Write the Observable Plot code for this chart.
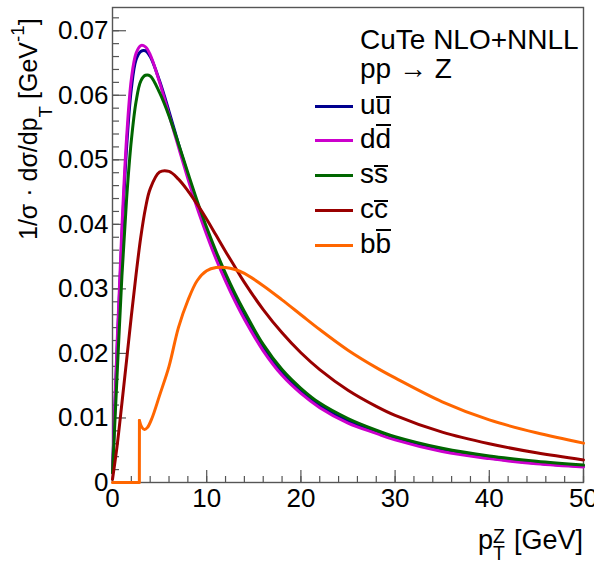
<!DOCTYPE html>
<html><head><meta charset="utf-8">
<script src="https://cdn.jsdelivr.net/npm/d3@7"></script>
<script src="https://cdn.jsdelivr.net/npm/@observablehq/plot@0.6"></script>
<style>
html,body{margin:0;padding:0;background:#fff;}
#wrap{position:relative;width:594px;height:563px;font-family:"Liberation Sans",Arial,Helvetica,sans-serif;color:#000;overflow:hidden;}
#wrap svg{position:absolute;left:0;top:0;}
.t{position:absolute;white-space:nowrap;font-size:27px;line-height:32px;}
.tl{position:absolute;white-space:nowrap;font-size:28px;line-height:32px;}
.ty{position:absolute;white-space:nowrap;font-size:25px;line-height:30px;}
.bx{display:inline-block;border-top:2px solid #000;line-height:0.507em;}
.ba{display:inline-block;border-top:2px solid #000;line-height:0.907em;}
.sw{position:absolute;height:3px;width:38px;}
.sub{font-size:0.75em;position:relative;top:0.8em;line-height:0;}
.sup{font-size:0.75em;position:relative;top:-0.67em;line-height:0;}
.ss{display:inline-block;position:relative;width:0.5em;height:1px;}
.ss .z{position:absolute;left:0;top:-1.05em;font-size:0.72em;line-height:1;}
.ss .tt{position:absolute;left:0;top:-0.2em;font-size:0.72em;line-height:1;}
</style></head><body><div id="wrap"></div>
<script>
// pT values (GeV) shared by the light-quark and charm curves
const pt = [0,0.5,1,1.5,2,2.5,3,3.5,4,5,6,7,8,9,10,11,12,13,14,16,18,20,22,25,28,30,35,40,45,50];
const uu = [0.0015,0.021,0.038,0.052,0.061,0.0655,0.0668,0.0669,0.0660,0.0622,0.0575,0.0525,0.0476,0.0430,0.0388,0.0350,0.0316,0.0285,0.0257,0.0208,0.0170,0.0141,0.0119,0.0095,0.0078,0.0068,0.0050,0.0038,0.0030,0.0025];
const dd = [0.0015,0.022,0.0395,0.0535,0.0625,0.0665,0.0677,0.0675,0.0663,0.0620,0.0570,0.0520,0.0471,0.0425,0.0384,0.0346,0.0312,0.0281,0.0253,0.0204,0.0166,0.0138,0.0116,0.0092,0.0076,0.0066,0.0048,0.0037,0.0029,0.0024];
const ss = [0.0015,0.017,0.032,0.044,0.053,0.059,0.0622,0.0631,0.0630,0.0604,0.0568,0.0525,0.0480,0.0436,0.0395,0.0358,0.0324,0.0293,0.0265,0.0214,0.0175,0.0146,0.0123,0.0099,0.0081,0.0071,0.0053,0.0041,0.0033,0.0027];
const cc = [0.0005,0.0058,0.0123,0.019,0.0258,0.0322,0.038,0.0425,0.0455,0.0481,0.0482,0.0470,0.0452,0.0431,0.0408,0.0383,0.0358,0.0334,0.0310,0.0268,0.0232,0.0201,0.0175,0.0143,0.0118,0.0104,0.0078,0.0060,0.0046,0.0035];
// b-quark curve has its own pT grid (threshold step near 2.9 GeV)
const ptB = [0,2.85,2.86,3.1,3.4,3.7,4.2,5,6,7,8,9,10,11,12,13,14,16,18,20,22,25,28,30,35,40,45,50];
const bb  = [0,0,0.0096,0.0086,0.0082,0.0085,0.0100,0.0135,0.0180,0.0240,0.0282,0.0313,0.0328,0.0333,0.0333,0.0330,0.0324,0.0305,0.0283,0.0260,0.0237,0.0205,0.0178,0.0162,0.0125,0.0097,0.0077,0.0061];

const colors = ["#00008f","#cc00cc","#006600","#990000","#ff6600"];
const xTicks = [0,10,20,30,40,50];
const yTicks = [0,0.01,0.02,0.03,0.04,0.05,0.06,0.07];
const yTickLabels = ["0","0.01","0.02","0.03","0.04","0.05","0.06","0.07"];
const xMinor = d3.range(0, 50.01, 2);
const yMinor = d3.range(0, 0.0731, 0.002);

const series = [
  {k:"uu", x:pt, y:uu}, {k:"dd", x:pt, y:dd}, {k:"ss", x:pt, y:ss},
  {k:"cc", x:pt, y:cc}, {k:"bb", x:ptB, y:bb}
];

const W = 594, H = 563, mL = 112, mR = 11, mT = 7, mB = 81;
const fw = W - mL - mR, fh = H - mT - mB;
const axisColor = "#555";

const rowsOf = s => s.x.map((x, j) => ({pt: x, v: s.y[j]}));
const lineMarks = [];
series.forEach((s, i) => {
  const rows = rowsOf(s);
  if (s.k === "bb") {
    // flat part + threshold jump drawn straight, the rest smooth
    lineMarks.push(Plot.line(rows.slice(0, 3), {x: "pt", y: "v", stroke: colors[i], strokeWidth: 3, curve: "linear"}));
    lineMarks.push(Plot.line(rows.slice(2), {x: "pt", y: "v", stroke: colors[i], strokeWidth: 3, curve: "catmull-rom"}));
  } else {
    lineMarks.push(Plot.line(rows, {x: "pt", y: "v", stroke: colors[i], strokeWidth: 3, curve: "catmull-rom"}));
  }
});

const plot = Plot.plot({
  width: W, height: H,
  marginLeft: mL, marginRight: mR, marginTop: mT, marginBottom: mB,
  style: {fontFamily: '"Liberation Sans", Arial, Helvetica, sans-serif', fontSize: "26px", background: "transparent", color: "#000"},
  x: {domain: [0, 50]},
  y: {domain: [0, 0.0736]},
  marks: [
    Plot.axisY(yTicks, {tickSize: 0, tickPadding: 4, fontSize: 26, label: null, tickFormat: d => yTickLabels[yTicks.indexOf(d)]}),
    Plot.axisX(xTicks, {tickSize: 0, tickPadding: 6, fontSize: 26, label: null, tickFormat: d => String(d)}),
    Plot.frame({stroke: axisColor, strokeWidth: 1.4}),
    Plot.tickY(yMinor, {y: d => d, insetRight: fw - 7, stroke: axisColor, strokeWidth: 1.2}),
    Plot.tickY(yTicks, {y: d => d, insetRight: fw - 14, stroke: axisColor, strokeWidth: 1.2}),
    Plot.tickX(xMinor, {x: d => d, insetTop: fh - 6, stroke: axisColor, strokeWidth: 1.2}),
    Plot.tickX(xTicks, {x: d => d, insetTop: fh - 12, stroke: axisColor, strokeWidth: 1.2}),
    ...lineMarks
  ]
});

const wrap = document.getElementById("wrap");
wrap.appendChild(plot);

// Legend (inside the frame, top right)
const legendTitle = ["CuTe NLO+NNLL", "pp \u2192 Z"];
const legendHTML = [
  'u<span class="bx">u</span>',
  'd<span class="ba">d</span>',
  's<span class="bx">s</span>',
  'c<span class="bx">c</span>',
  'b<span class="ba">b</span>'
];
const offFor = (fs, lh) => (lh - 1.117 * fs) / 2 + 0.905 * fs;
const off = offFor(27, 32), offL = offFor(28, 32);
const titleBaselines = [50, 79];
legendTitle.forEach((t, i) => {
  const d = document.createElement("div");
  d.className = "tl";
  d.style.left = "360px";
  d.style.top = (titleBaselines[i] - offL) + "px";
  d.textContent = t;
  wrap.appendChild(d);
});
const entryY = [106, 140, 175, 210, 245];
legendHTML.forEach((h, i) => {
  const s = document.createElement("div");
  s.className = "sw";
  s.style.left = "315px";
  s.style.top = (entryY[i] - 1.5) + "px";
  s.style.background = colors[i];
  wrap.appendChild(s);
  const d = document.createElement("div");
  d.className = "tl";
  d.style.left = "360px";
  d.style.top = (entryY[i] + 9 - offL) + "px";
  d.innerHTML = h;
  wrap.appendChild(d);
});

// Y-axis title (rotated)
const yt = document.createElement("div");
yt.className = "ty";
yt.style.left = "13px";
yt.style.top = "240px";
yt.style.transformOrigin = "0 0";
yt.style.transform = "rotate(-90deg)";
yt.innerHTML = '1/\u03c3 \u00b7 d\u03c3/dp<span class="sub">T</span> [GeV<span class="sup">-1</span>]';
wrap.appendChild(yt);

// X-axis title
const xt = document.createElement("div");
xt.className = "t";
xt.style.right = "11px";
xt.style.top = (549 - off) + "px";
xt.innerHTML = 'p<span class="ss"><span class="z">Z</span><span class="tt">T</span></span> [GeV]';
wrap.appendChild(xt);
</script>
</body></html>
